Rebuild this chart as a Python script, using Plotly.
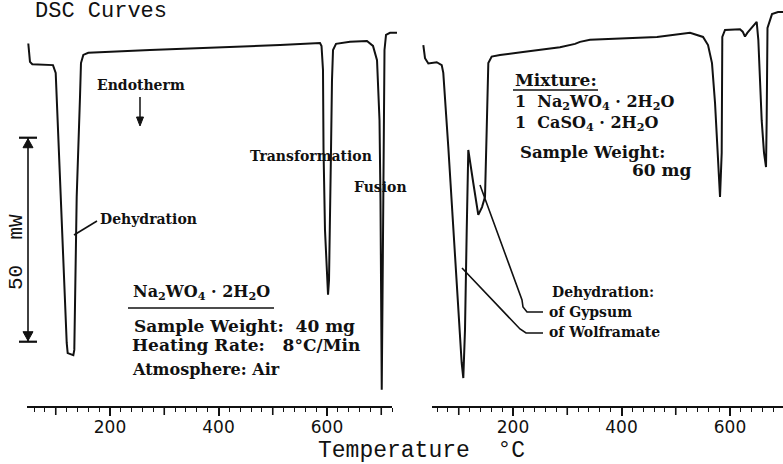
import plotly.graph_objects as go

# ---------------- data (temperature in degC, heat flow in mW, arbitrary offset) -------------
na_temp = [49.4, 52.5, 56.8, 94.9, 99.9, 104.1, 111.0, 117.0, 120.2, 122.0, 132.4, 134.2,
           135.5, 138.6, 144.7, 146.5, 150.8, 160.0, 273.7, 402.8, 513.4, 587.1, 589.9,
           592.6, 593.6, 596.3, 600.0, 601.9, 603.7, 605.5, 607.4, 609.2, 611.1, 616.6,
           642.4, 673.7, 684.8, 692.2, 696.8, 698.6, 700.5, 700.9, 702.3, 704.2, 706.0,
           708.8, 716.1, 729.0]
na_flow = [89.1, 84.6, 84.0, 83.8, 81.9, 67.9, 43.4, 27.0, 15.7, 13.2, 12.7, 14.0,
           27.0, 51.5, 76.0, 84.3, 86.3, 86.8, 87.5, 88.1, 88.7, 89.2, 88.5,
           82.6, 63.0, 43.4, 31.1, 27.5, 31.1, 43.4, 63.0, 80.1, 87.5, 89.0,
           89.5, 89.7, 88.5, 85.0, 70.3, 50.7, 26.2, 4.2, 26.2, 63.0, 87.5,
           91.2, 91.7, 91.7]

mix_temp = [34.7, 37.8, 43.9, 59.4, 68.6, 71.5, 80.7, 90.0, 99.2, 105.4, 108.4, 111.5,
            114.7, 117.6, 126.8, 136.0, 142.9, 148.4, 151.5, 154.5, 160.7, 176.0, 218.4,
            286.6, 314.3, 323.5, 341.9, 402.8, 465.4, 526.3, 550.3, 559.5, 566.8, 572.4,
            575.5, 578.4, 581.6, 584.7, 585.0, 585.8, 590.8, 618.4, 623.4, 627.6, 631.9,
            642.9, 649.2, 652.2, 658.4, 662.7, 666.4, 667.6, 667.8, 669.1, 677.4, 688.5,
            697.7]
mix_flow = [88.7, 85.5, 84.2, 84.5, 83.8, 81.9, 63.8, 43.4, 23.0, 10.8, 7.1, 18.9,
            43.4, 63.0, 54.9, 47.1, 49.0, 51.5, 67.9, 84.3, 85.9, 86.3, 87.0,
            88.2, 89.0, 89.5, 90.0, 90.4, 90.7, 91.7, 90.7, 88.7, 84.3, 74.5,
            66.2, 58.1, 51.5, 62.3, 78.4, 90.7, 92.4, 92.6, 92.0, 90.8, 91.7,
            93.6, 94.4, 90.0, 70.3, 62.3, 58.8, 70.3, 86.8, 92.9, 96.3, 96.8,
            96.8]

label_ticks = [200, 400, 600]
long_ticks = [100, 300, 500, 700]
minor_ticks = list(range(60, 721, 20))

scale_bar_base = 16.0     # mW
scale_bar_size = 50.0     # mW

# ---------------- layout helpers ----------------
W, H = 783, 464
def px(x):
    return x / W
def py(y):
    return 1 - y / H

PX_PER_DEG = 0.5425
def trange(p0, p1, ref_px):
    return [200 + (p0 - ref_px) / PX_PER_DEG, 200 + (p1 - ref_px) / PX_PER_DEG]

AXIS_Y = 407
PX_PER_MW = 4.08
def mw_to_pix(v):
    return AXIS_Y - v * PX_PER_MW

BLACK = "#111111"
LBL = "DejaVu Serif"
MONO = "Liberation Mono"
NB = "\u00a0"

fig = go.Figure()
fig.add_trace(go.Scatter(x=na_temp, y=na_flow, mode="lines", xaxis="x", yaxis="y",
                         line=dict(color=BLACK, width=2), hoverinfo="skip", showlegend=False))
fig.add_trace(go.Scatter(x=mix_temp, y=mix_flow, mode="lines", xaxis="x2", yaxis="y",
                         line=dict(color=BLACK, width=2), hoverinfo="skip", showlegend=False))

xcommon = dict(showgrid=False, zeroline=False, showline=False, ticks="outside",
               ticklen=8, tickwidth=1.6, tickcolor=BLACK, tickmode="array",
               tickvals=label_ticks, ticklabelstandoff=-3,
               tickfont=dict(family="DejaVu Sans", size=17, color=BLACK),
               minor=dict(tickmode="array", tickvals=minor_ticks, ticklen=4,
                          tickwidth=1.4, tickcolor=BLACK, ticks="outside"),
               fixedrange=True)

fig.update_layout(
    width=W, height=H, margin=dict(l=0, r=0, t=0, b=0),
    paper_bgcolor="white", plot_bgcolor="white",
    xaxis=dict(domain=[px(20), px(400)], range=trange(20, 400, 110), anchor="y", **xcommon),
    xaxis2=dict(domain=[px(418), 1.0], range=trange(418, W, 513), anchor="y", **xcommon),
    yaxis=dict(domain=[py(AXIS_Y), 1.0], range=[0, AXIS_Y / PX_PER_MW], visible=False,
               fixedrange=True),
)

shapes = []
def seg(x0, y0, x1, y1, w=2):
    shapes.append(dict(type="line", xref="paper", yref="paper", x0=px(x0), y0=py(y0),
                       x1=px(x1), y1=py(y1), line=dict(color=BLACK, width=w)))
def path(pts, w=1.6, fill=False):
    d = "M " + " L ".join(f"{px(a):.5f},{py(b):.5f}" for a, b in pts)
    if fill:
        d += " Z"
    shapes.append(dict(type="path", xref="paper", yref="paper", path=d,
                       fillcolor=BLACK if fill else None,
                       line=dict(color=BLACK, width=w)))

# axis lines
seg(27, AXIS_Y, 392, AXIS_Y, 2.2)
seg(432, AXIS_Y, W, AXIS_Y, 2.2)

# longer ticks at odd hundreds
for xr in ("x", "x2"):
    for t in long_ticks:
        shapes.append(dict(type="line", xref=xr, yref="paper", x0=t, x1=t,
                           y0=py(AXIS_Y), y1=py(AXIS_Y + 8), line=dict(color=BLACK, width=1.6)))

# scale bar
sb_top = mw_to_pix(scale_bar_base + scale_bar_size)
sb_bot = mw_to_pix(scale_bar_base)
seg(28, sb_top, 28, sb_bot, 1.6)
seg(19, sb_top, 37, sb_top, 2.2)
seg(19, sb_bot, 37, sb_bot, 2.2)
path([(28, sb_top + 1), (23, sb_top + 10), (33, sb_top + 10)], w=1, fill=True)
path([(28, sb_bot - 1), (23, sb_bot - 10), (33, sb_bot - 10)], w=1, fill=True)

# endotherm arrow
seg(140, 97, 140, 118, 1.5)
path([(140, 126), (136.5, 117), (143.5, 117)], w=1, fill=True)

# underlines
seg(128, 308, 274, 308, 1.6)
seg(513, 90, 598, 90, 1.6)

# leader lines
path([(74, 235), (97, 221)])
path([(480, 185), (522, 300), (523, 307), (527, 312), (543, 312)])
path([(462, 268), (520, 329), (526, 333), (543, 333)])

fig.update_layout(shapes=shapes)

ann = []
def text(t, x, y, size=14, anchor="left", family=LBL, bold=True, angle=0):
    ann.append(dict(text=t, x=px(x), y=py(y), xref="paper", yref="paper",
                    xanchor=anchor, yanchor="middle", showarrow=False, textangle=angle,
                    align="left",
                    font=dict(family=family, size=size, color=BLACK,
                              weight="bold" if bold else "normal")))

text("DSC" + NB + "Curves", 33, 12, size=22, family=MONO, bold=False)
text("Temperature" + NB + NB + "°C", 422, 451, size=23, anchor="center", family=MONO, bold=False)
text("50" + NB + NB + "mW", 16, 252, size=21, anchor="center", family=MONO, bold=False, angle=-90)

text("Endotherm", 141, 85, size=14, anchor="center")
text("Dehydration", 98, 219, size=14)
text("Transformation", 311, 156, size=14, anchor="center")
text("Fusion", 352, 187, size=14)
text("Na<sub>2</sub>WO<sub>4</sub>" + NB + "·" + NB + "2H<sub>2</sub>O", 131, 292, size=16)
text("Sample" + NB + "Weight:" + NB + NB + "40" + NB + "mg", 132, 326, size=17)
text("Heating" + NB + "Rate:" + NB + NB + NB + "8°C/Min", 130, 345, size=17)
text("Atmosphere:" + NB + "Air", 130, 369, size=16)

text("Mixture:", 513, 80, size=17)
text("1" + NB + NB + "Na<sub>2</sub>WO<sub>4</sub>" + NB + "·" + NB + "2H<sub>2</sub>O<br>"
     "1" + NB + NB + "CaSO<sub>4</sub>" + NB + "·" + NB + "2H<sub>2</sub>O", 513, 113, size=16)
text("Sample" + NB + "Weight:", 518, 152, size=16.5)
text("60" + NB + "mg", 630, 170, size=17)
text("Dehydration:", 550, 292, size=14)
text("of" + NB + "Gypsum", 547, 312, size=14)
text("of" + NB + "Wolframate", 547, 332, size=14)

fig.update_layout(annotations=ann)
fig.write_html("out.html", config={"displayModeBar": False},
               post_script="document.body.style.margin='0px';")
